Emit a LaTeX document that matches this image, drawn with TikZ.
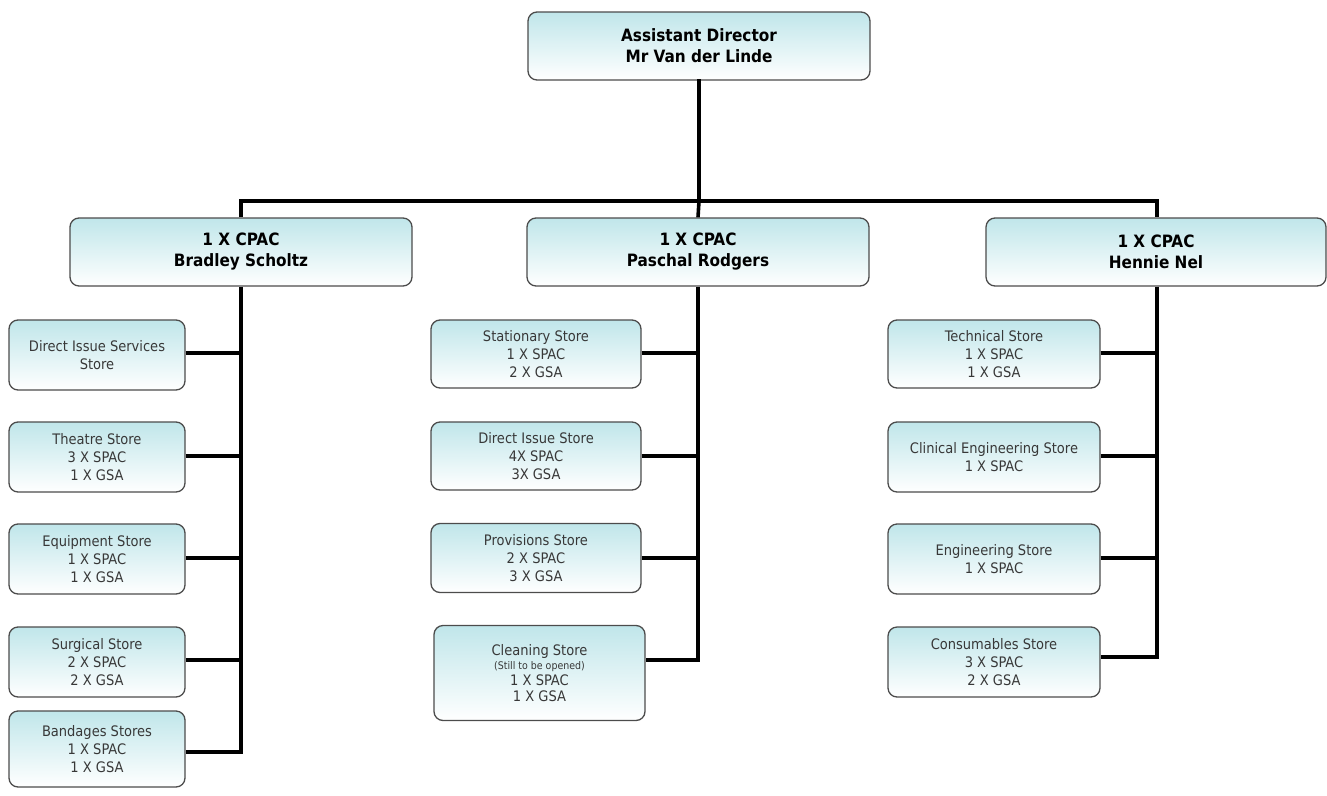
\documentclass[tikz,border=0pt]{standalone}
\usepackage{fontspec}
\setmainfont{DejaVu Sans}
\newfontfamily\condfont{DejaVu Sans Condensed}
\begin{document}
\begin{tikzpicture}[x=1pt,y=-1pt,
  boxbase/.style={draw=black!70, line width=1.3pt, rounded corners=9pt,
    top color=paleteal, bottom color=white, inner sep=0pt, align=center},
  headbox/.style={boxbase, minimum width=342pt, minimum height=68pt,
    font=\condfont\bfseries\fontsize{17}{21}\selectfont, text=black},
  storebox/.style={boxbase, minimum height=70pt,
    font=\condfont\fontsize{14.5}{18}\selectfont, text=black!78},
  link/.style={line width=3.6pt, line cap=butt},
]
\definecolor{paleteal}{RGB}{192,230,234}
\useasboundingbox (0,0) rectangle (1327,795);

% management level
\node[headbox] (dir) at (699,46) {Assistant Director\\Mr Van der Linde};
\node[headbox] (cpacL) at (241,252) {1 X CPAC\\Bradley Scholtz};
\node[headbox] (cpacM) at (698,252) {1 X CPAC\\Paschal Rodgers};
\node[headbox, minimum width=340pt] (cpacR) at (1156,252) {1 X CPAC\\Hennie Nel};

% left column stores
\node[storebox, minimum width=176pt] (ds) at (97,355) {Direct Issue Services\\Store};
\node[storebox, minimum width=176pt] (th) at (97,457) {Theatre Store\\3 X SPAC\\1 X GSA};
\node[storebox, minimum width=176pt] (eq) at (97,559) {Equipment Store\\1 X SPAC\\1 X GSA};
\node[storebox, minimum width=176pt] (su) at (97,662) {Surgical Store\\2 X SPAC\\2 X GSA};
\node[storebox, minimum width=176pt, minimum height=76pt] (ba) at (97,749) {Bandages Stores\\1 X SPAC\\1 X GSA};

% middle column stores
\node[storebox, minimum width=210pt, minimum height=68pt] (st) at (536,354) {Stationary Store\\1 X SPAC\\2 X GSA};
\node[storebox, minimum width=210pt, minimum height=68pt] (di) at (536,456) {Direct Issue Store\\4X SPAC\\3X GSA};
\node[storebox, minimum width=210pt, minimum height=69pt] (pr) at (536,558) {Provisions Store\\2 X SPAC\\3 X GSA};
\node[storebox, minimum width=211pt, minimum height=95pt] (cl) at (539.5,673)
  {Cleaning Store\\[-4pt]{\fontsize{10.5}{12}\selectfont (Still to be opened)}\\[-2pt]1 X SPAC\\[-2pt]1 X GSA};

% right column stores
\node[storebox, minimum width=212pt, minimum height=68pt] (te) at (994,354) {Technical Store\\1 X SPAC\\1 X GSA};
\node[storebox, minimum width=212pt] (ce) at (994,457) {Clinical Engineering Store\\1 X SPAC};
\node[storebox, minimum width=212pt] (en) at (994,559) {Engineering Store\\1 X SPAC};
\node[storebox, minimum width=212pt] (co) at (994,662) {Consumables Store\\3 X SPAC\\2 X GSA};

% branch points
\coordinate (bar) at (699,201);
\coordinate (endL) at (241,752);
\coordinate (endM) at (698,660);
\coordinate (endR) at (1157,657);

% connectors between levels
\draw[link, line cap=rect] (dir.south) -- (bar);
\draw[link] (cpacL.north) |- (bar -| cpacL.north) -- (bar -| endR) -- (cpacR.north -| endR);
\draw[link] (bar) -- (cpacM.north);

\draw[link] (cpacL.south) -- (endL) -- (ba.east |- endL);
\draw[link] (cpacM.south) -- (endM) -- (cl.east |- endM);
\draw[link] (cpacR.south -| endR) -- (endR) -- (co.east |- endR);

\draw[link] (ds.east |- 0,353) -- (endL |- 0,353);
\draw[link] (th.east |- 0,456) -- (endL |- 0,456);
\draw[link] (eq.east |- 0,558) -- (endL |- 0,558);
\draw[link] (su.east |- 0,660) -- (endL |- 0,660);

\draw[link] (st.east |- 0,353) -- (endM |- 0,353);
\draw[link] (di.east |- 0,456) -- (endM |- 0,456);
\draw[link] (pr.east |- 0,558) -- (endM |- 0,558);

\draw[link] (te.east |- 0,353) -- (endR |- 0,353);
\draw[link] (ce.east |- 0,456) -- (endR |- 0,456);
\draw[link] (en.east |- 0,558) -- (endR |- 0,558);
\end{tikzpicture}
\end{document}
